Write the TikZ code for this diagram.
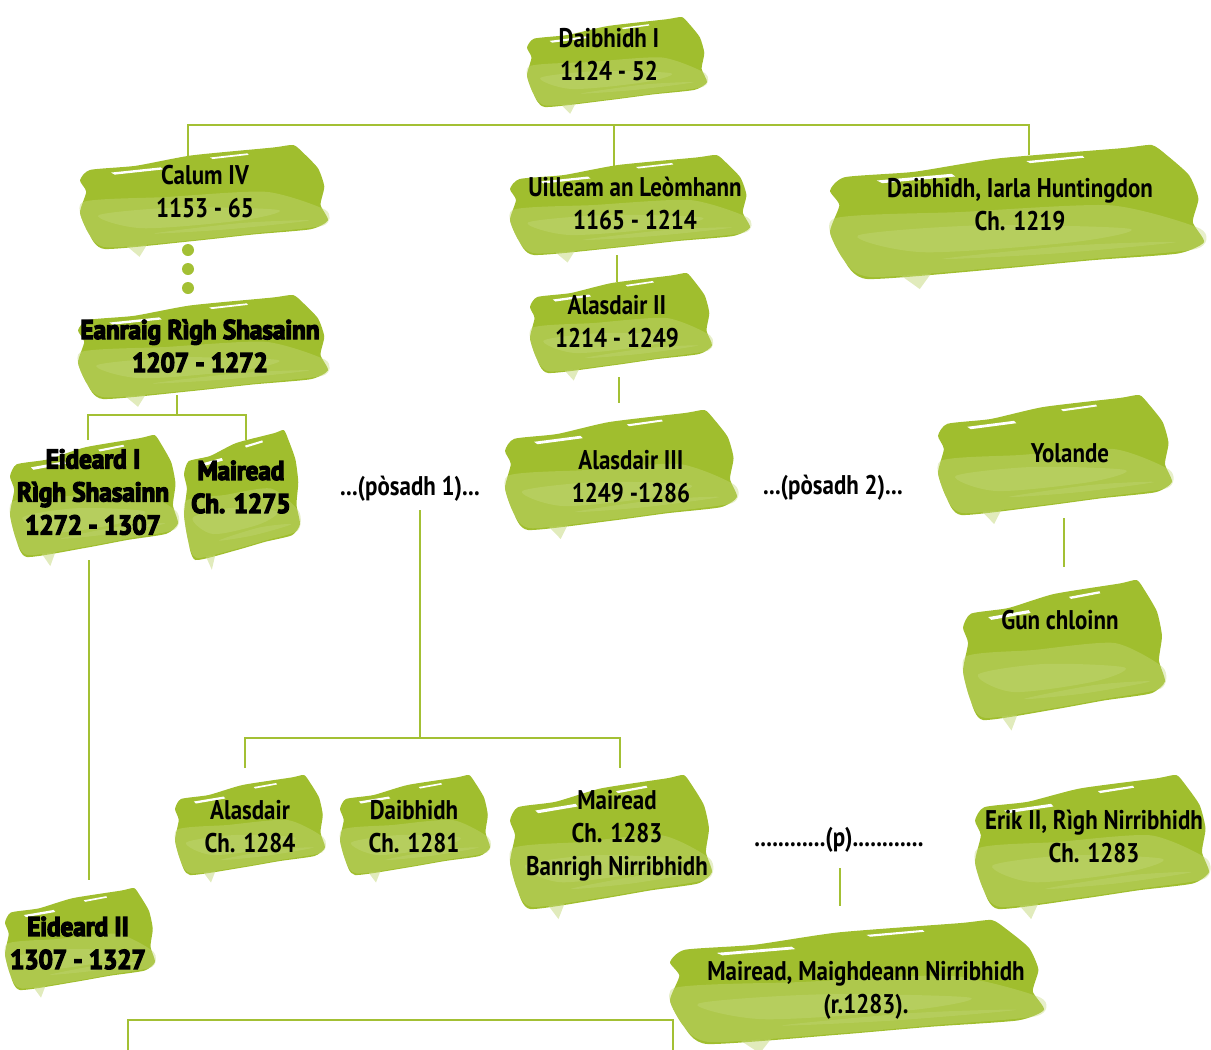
\documentclass[tikz,border=0pt]{standalone}
\usepackage{fontspec}
\setmainfont{PT Sans}[FakeStretch=0.85]
\newfontfamily\heavyfont{PT Sans}[FakeStretch=0.93, BoldFeatures={FakeBold=5}]
\usetikzlibrary{backgrounds}
\definecolor{brushg}{RGB}{160,190,46}
\definecolor{brushl}{RGB}{196,216,122}
\definecolor{linec}{RGB}{163,192,52}
\newcommand{\brush}[4]{%
  \begin{scope}[shift={(#1,#2)}, x=#3pt, y=-#4pt]
    \fill[brushg] plot[smooth cycle, tension=0.35] coordinates {(-0.92,-0.52) (-0.55,-0.6) (-0.1,-0.8) (0.55,-0.95) (0.72,-1.0) (0.8,-0.85) (0.92,-0.55) (0.97,-0.2) (0.94,0.15) (1.0,0.45) (0.86,0.62) (0.4,0.72) (-0.1,0.85) (-0.8,1.0) (-0.93,0.7) (-1.0,0.3) (-0.95,-0.1) (-1.0,-0.32)};
    \fill[brushl, opacity=0.4] plot[smooth cycle, tension=0.4] coordinates {(-0.98,0.1) (-0.3,0.0) (0.5,-0.1) (0.98,0.25) (0.96,0.55) (0.4,0.7) (-0.1,0.83) (-0.78,0.97) (-0.93,0.7)};
    \fill[brushl, opacity=0.4] plot[smooth cycle, tension=0.5] coordinates {(-0.85,0.35) (-0.2,0.2) (0.6,0.25) (0.3,0.45) (-0.5,0.6)};
    \fill[brushl, opacity=0.35] plot[smooth cycle, tension=0.5] coordinates {(-0.4,0.7) (0.3,0.5) (0.85,0.45) (0.2,0.62)};
    \fill[brushl, opacity=0.5] (-0.62,0.95) -- (-0.52,1.15) -- (-0.46,0.92) -- cycle;
    \fill[white] (-0.75,-0.47) -- (-0.35,-0.57) -- (-0.33,-0.53) -- (-0.72,-0.43) -- cycle;
    \fill[white] (0.05,-0.76) -- (0.35,-0.84) -- (0.36,-0.81) -- (0.07,-0.73) -- cycle;
  \end{scope}}
\tikzset{
  lbl/.style={font=\bfseries\fontsize{27}{33}\selectfont, align=center, inner sep=1pt, text=black},
  heavy/.style={font=\heavyfont\bfseries\fontsize{27}{33}\selectfont, align=center, inner sep=1pt, text=black},
  conn/.style={draw=linec, line width=2.2pt},
  dot/.style={circle, fill=linec, minimum size=12pt, inner sep=0pt}
}
\begin{document}
\begin{tikzpicture}[x=1pt, y=-1pt]
\useasboundingbox (0,0) rectangle (1211,1050);
% brushes
\brush{617}{62}{90}{45}
\brush{204}{197}{124}{52}
\brush{630}{205}{120}{50}
\brush{1017}{212}{187}{67}
\brush{203}{347}{125}{52}
\brush{621}{323}{91}{50}
\brush{94}{496}{84}{61}
\brush{242}{495}{58}{65}
\brush{621}{470}{116}{60}
\brush{1055}{455}{117}{60}
\brush{1064}{650}{101}{70}
\brush{250}{825}{75}{50}
\brush{415}{825}{75}{50}
\brush{611}{842}{101}{67}
\brush{1092}{842}{117}{67}
\brush{80}{939}{75}{51}
\brush{857}{982}{187}{62}
% labels
\node[lbl] (d1) at (609,55) {Daibhidh I\\1124 - 52};
\node[lbl] (calum) at (205,192) {Calum IV\\1153 - 65};
\node[lbl] (uill) at (635,203) {Uilleam an Leòmhann\\1165 - 1214};
\node[lbl] (hunt) at (1020,205) {Daibhidh, Iarla Huntingdon\\Ch. 1219};
\node[heavy] (eanr) at (200,346) {Eanraig Rìgh Shasainn\\1207 - 1272};
\node[lbl] (al2) at (617,322) {Alasdair II\\1214 - 1249};
\node[heavy] (eid1) at (93,492) {Eideard I\\Rìgh Shasainn\\1272 - 1307};
\node[heavy] (mair1) at (241,487) {Mairead\\Ch. 1275};
\node[lbl] (pos1) at (410,489) {...(pòsadh 1)...};
\node[lbl] (al3) at (631,477) {Alasdair III\\1249 -1286};
\node[lbl] (pos2) at (833,488) {...(pòsadh 2)...};
\node[lbl] (yol) at (1070,453) {Yolande};
\node[lbl] (gun) at (1060,620) {Gun chloinn};
\node[lbl] (alas) at (250,827) {Alasdair\\Ch. 1284};
\node[lbl] (daib) at (414,827) {Daibhidh\\Ch. 1281};
\node[lbl] (mair2) at (617,836) {Mairead\\Ch. 1283\\Banrigh Nirribhidh};
\node[lbl] (posp) at (839,840) {............(p)............};
\node[lbl] (erik) at (1094,836) {Erik II, Rìgh Nirribhidh\\Ch. 1283};
\node[heavy] (eid2) at (78,943) {Eideard II\\1307 - 1327};
\node[lbl] (mair3) at (866,990) {Mairead, Maighdeann Nirribhidh\\(r.1283).};
% dots
\node[dot] (dt1) at (188,250) {};
\node[dot] (dt2) at (188,269) {};
\node[dot] (dt3) at (188,288) {};
% connector coordinates
\coordinate (barL) at (188,125);
\coordinate (barM) at (614,125);
\coordinate (barR) at (1029,125);
\coordinate (ca) at (188,165);
\coordinate (ua) at (614,175);
\coordinate (ha) at (1029,155);
\coordinate (ub) at (617,255);
\coordinate (a2t) at (617,282);
\coordinate (a2b) at (619,377);
\coordinate (a3t) at (619,403);
\coordinate (eb) at (177,395);
\coordinate (ebar) at (177,415);
\coordinate (e1t) at (88,440);
\coordinate (m1t) at (246,440);
\coordinate (e1b) at (89,560);
\coordinate (e2t) at (89,880);
\coordinate (p1b) at (420,510);
\coordinate (p1bar) at (420,738);
\coordinate (c1t) at (245,768);
\coordinate (c3t) at (620,768);
\coordinate (yb) at (1064,518);
\coordinate (gt) at (1064,567);
\coordinate (ppb) at (840,868);
\coordinate (m3t) at (840,906);
\coordinate (bl) at (128,1050);
\coordinate (bm) at (400,1020);
\coordinate (br) at (673,1050);
\begin{scope}[on background layer]
\draw[conn] (ca) -- (barL) -- (barR) -- (ha);
\draw[conn] (barM) -- (ua);
\draw[conn] (ub) -- (a2t);
\draw[conn] (a2b) -- (a3t);
\draw[conn] (eb) -- (ebar);
\draw[conn] (e1t) |- (ebar) -| (m1t);
\draw[conn] (e1b) -- (e2t);
\draw[conn] (p1b) -- (p1bar);
\draw[conn] (c1t) |- (p1bar) -| (c3t);
\draw[conn] (yb) -- (gt);
\draw[conn] (ppb) -- (m3t);
\draw[conn] (bl) |- (bm) -| (br);
\end{scope}
\end{tikzpicture}
\end{document}
